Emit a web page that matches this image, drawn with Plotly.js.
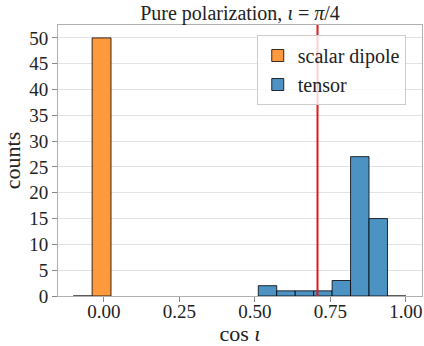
<!DOCTYPE html>
<html>
<head>
<meta charset="utf-8">
<script src="https://cdn.plot.ly/plotly-3.0.1.min.js"></script>
<style>html,body{margin:0;padding:0;background:#fff;}#chart{width:424px;height:346px;}</style>
</head>
<body>
<div id="chart"></div>
<script>
// Histogram data
const scalarEdges = [-0.1015, -0.039];   // left bin edges
const scalarCounts = [0, 50];
const scalarBinWidth = 0.0625;

const tensorEdges = [0.511, 0.5721, 0.6332, 0.6943, 0.7554, 0.8165, 0.8776, 0.9387];
const tensorCounts = [2, 1, 1, 1, 3, 27, 15, 0];
const tensorBinWidth = 0.0611;

const refIota = [Math.cos(Math.PI / 4)];   // cos(pi/4)

const seriesNames = ['scalar dipole', 'tensor'];
const xTickVals = [0, 0.25, 0.5, 0.75, 1.0];
const xTickText = ['0.00', '0.25', '0.50', '0.75', '1.00'];
const yTickVals = [0, 5, 10, 15, 20, 25, 30, 35, 40, 45, 50];

const FONT = 'Liberation Serif';

function centers(edges, w) { return edges.map(e => e + w / 2); }

const traces = [
  {
    type: 'bar', name: seriesNames[0],
    x: centers(scalarEdges, scalarBinWidth), y: scalarCounts,
    width: scalarEdges.map(() => scalarBinWidth),
    marker: {color: 'rgb(255,153,62)', line: {color: 'rgba(0,0,0,0.8)', width: 1}}
  },
  {
    type: 'bar', name: seriesNames[1],
    x: centers(tensorEdges, tensorBinWidth), y: tensorCounts,
    width: tensorEdges.map(() => tensorBinWidth),
    marker: {color: 'rgb(76,146,195)', line: {color: 'rgba(0,0,0,0.8)', width: 1}}
  }
];

const layout = {
  width: 424, height: 346,
  margin: {l: 58, r: 2, t: 25, b: 50, pad: 0},
  paper_bgcolor: '#fff', plot_bgcolor: '#fff',
  font: {family: FONT, color: '#222', size: 19},
  barmode: 'overlay',
  showlegend: true,
  title: {
    text: 'Pure polarization, <i>ι</i> = <i>π</i>/4',
    font: {family: FONT, size: 20, color: '#222'},
    xref: 'paper', x: 0.5, xanchor: 'center',
    yref: 'container', y: 0.962, yanchor: 'middle'
  },
  xaxis: {
    range: [-0.152, 1.053],
    tickvals: xTickVals, ticktext: xTickText,
    ticks: 'outside', ticklen: 5, tickcolor: '#888', tickwidth: 1,
    ticklabelstandoff: -7,
    showgrid: false, zeroline: false,
    showline: true, linecolor: '#b0b0b0', linewidth: 1, mirror: true,
    tickfont: {family: FONT, size: 19, color: '#222'},
    title: {text: 'cos <i>ι</i>', font: {family: FONT, size: 22, color: '#222'}, standoff: 16}
  },
  yaxis: {
    range: [0, 52.5],
    tickvals: yTickVals,
    ticks: 'outside', ticklen: 5, tickcolor: '#888', tickwidth: 1,
    showgrid: true, gridcolor: '#e3e3e3', gridwidth: 1, zeroline: false,
    showline: true, linecolor: '#b0b0b0', linewidth: 1, mirror: true,
    tickfont: {family: FONT, size: 19, color: '#222'},
    title: {text: 'counts', font: {family: FONT, size: 22, color: '#222'}, standoff: 6}
  },
  legend: {
    x: 0.546, y: 0.963, xanchor: 'left', yanchor: 'top',
    bgcolor: 'rgba(255,255,255,0.8)', bordercolor: '#cccccc', borderwidth: 1,
    font: {family: FONT, size: 20, color: '#222'}
  },
  shapes: refIota.map(v => ({
    type: 'line', xref: 'x', yref: 'paper', x0: v, x1: v, y0: 0, y1: 1,
    line: {color: '#dd1a1a', width: 2}, layer: 'above'
  }))
};

Plotly.newPlot('chart', traces, layout, {displayModeBar: false, staticPlot: true});
</script>
</body>
</html>
